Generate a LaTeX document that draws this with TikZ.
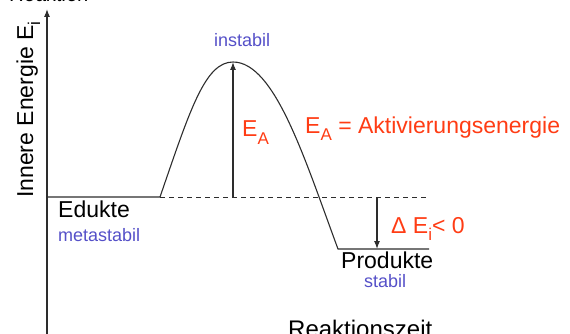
\documentclass[tikz,border=0pt]{standalone}
\usepackage{fontspec}
\setmainfont{Liberation Sans}
\usetikzlibrary{arrows.meta}
\definecolor{redtxt}{RGB}{255,60,20}
\definecolor{bluetxt}{RGB}{85,80,200}
\definecolor{linegray}{RGB}{45,45,45}
\newcommand\sbsc[1]{\raisebox{-7pt}{\fontsize{17}{17}\selectfont #1}}
\tikzset{
  big/.style={inner sep=0pt, font=\fontsize{23}{27}\selectfont},
  small/.style={inner sep=0pt, font=\fontsize{18}{21}\selectfont, text=bluetxt},
  curve/.style={draw=linegray, line width=1.1pt},
  arr/.style={draw=linegray, line width=1.1pt, -{Latex[length=8pt,width=6pt]}},
  dashline/.style={draw=linegray, line width=1pt, dash pattern=on 5pt off 4pt}
}
\begin{document}
\begin{tikzpicture}[x=1pt,y=-1pt]
\useasboundingbox (0,0) rectangle (570,334);
\clip (0,0) rectangle (570,334);
% axis
\coordinate (ax0) at (47,340);
\coordinate (ax1) at (47,9);
\draw[arr] (ax0) -- (ax1);
% levels
\coordinate (e0) at (47,197);
\coordinate (e1) at (160,197);
\coordinate (peak) at (233,62);
\coordinate (p0) at (338,249);
\coordinate (p1) at (429,249);
\coordinate (d1) at (427,197);
\coordinate (ea0) at (233,197);
\coordinate (de0) at (377,197);
\coordinate (de1) at (377,249);
\draw[curve] (e0) -- (e1) .. controls (190,110) and (205,62) .. (peak)
  .. controls (275,62) and (305,160) .. (p0) -- (p1);
\draw[dashline] (e1) -- (d1);
\draw[arr] (ea0) -- (peak);
\draw[arr] (de0) -- (de1);
% texts
\node[big, anchor=base west, rotate=90] (ylab) at (33,198) {Innere Energie E\sbsc{i}};
\node[inner sep=0pt, anchor=base west, font=\fontsize{20}{24}\selectfont\itshape] (top) at (10,2) {Reaktion};
\node[big, anchor=base west] (edukte) at (58,217) {Edukte};
\node[small, anchor=base west] (meta) at (58,241) {metastabil};
\node[small, anchor=base west] (inst) at (214,47) {instabil};
\node[big, anchor=base west, text=redtxt] (ea) at (242,137) {E\sbsc{A}};
\node[big, anchor=base west, text=redtxt] (eadef) at (305,133) {E\sbsc{A} = Aktivierungsenergie};
\node[big, anchor=base west, text=redtxt] (dei) at (391,233) {Δ E\sbsc{i}< 0};
\node[big, anchor=base west] (prod) at (341,268) {Produkte};
\node[small, anchor=base west] (stab) at (364,287) {stabil};
\node[big, anchor=base west, font=\fontsize{24}{28}\selectfont] (zeit) at (288,337) {Reaktionszeit};
\end{tikzpicture}
\end{document}
